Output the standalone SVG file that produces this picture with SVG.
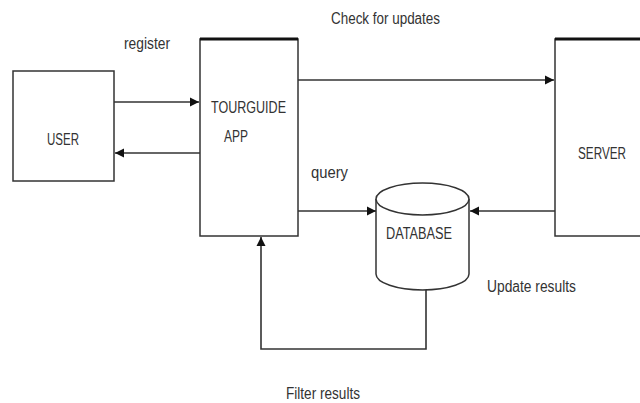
<svg xmlns="http://www.w3.org/2000/svg" width="640" height="403" viewBox="0 0 640 403">
<defs>
<style>
.box{fill:#fff;stroke:#333;stroke-width:1.5}
.top{stroke:#111;stroke-width:3}
.ln{fill:none;stroke:#333;stroke-width:1.6}
.t{font-family:"Liberation Sans",Arial,sans-serif;font-size:16px;fill:#333}
</style>
<marker id="ah" markerWidth="10" markerHeight="10" refX="9" refY="5" orient="auto" markerUnits="userSpaceOnUse">
<path d="M0,0.5 L9,5 L0,9.5 Z" fill="#111"/>
</marker>
</defs>
<rect width="640" height="403" fill="#fff"/>
<g id="user">
<rect class="box" x="13" y="71" width="101" height="110"/>
<text class="t" x="47" y="145" textLength="32" lengthAdjust="spacingAndGlyphs">USER</text>
</g>
<g id="tourguide">
<rect class="box" x="200" y="39" width="98" height="197"/>
<line class="top" x1="200" y1="39" x2="298" y2="39"/>
<text class="t" x="211" y="113" textLength="75" lengthAdjust="spacingAndGlyphs">TOURGUIDE</text>
<text class="t" x="224" y="142" textLength="24" lengthAdjust="spacingAndGlyphs">APP</text>
</g>
<g id="server">
<path class="box" d="M640,39 L555,39 L555,236 L640,236"/>
<line class="top" x1="555" y1="39" x2="640" y2="39"/>
<text class="t" x="578" y="159" textLength="48" lengthAdjust="spacingAndGlyphs">SERVER</text>
</g>
<g id="database">
<path class="box" d="M376,199 L376,274 A46.5,16 0 0 0 469,274 L469,199"/>
<ellipse class="box" cx="422.5" cy="199" rx="46.5" ry="16"/>
<text class="t" x="386" y="239" textLength="66" lengthAdjust="spacingAndGlyphs">DATABASE</text>
</g>
<g id="connectors">
<line class="ln" x1="114" y1="102" x2="199" y2="102" marker-end="url(#ah)"/>
<line class="ln" x1="200" y1="153" x2="115" y2="153" marker-end="url(#ah)"/>
<line class="ln" x1="298" y1="80" x2="554" y2="80" marker-end="url(#ah)"/>
<line class="ln" x1="298" y1="211" x2="376" y2="211" marker-end="url(#ah)"/>
<line class="ln" x1="555" y1="211" x2="470" y2="211" marker-end="url(#ah)"/>
<polyline class="ln" points="426,290 426,349 261,349 261,237" marker-end="url(#ah)"/>
</g>
<g id="labels">
<text class="t" x="124" y="49" textLength="46" lengthAdjust="spacingAndGlyphs">register</text>
<text class="t" x="331" y="24" textLength="109" lengthAdjust="spacingAndGlyphs">Check for updates</text>
<text class="t" x="311" y="178" textLength="37" lengthAdjust="spacingAndGlyphs">query</text>
<text class="t" x="487" y="292" textLength="89" lengthAdjust="spacingAndGlyphs">Update results</text>
<text class="t" x="286" y="399" textLength="74" lengthAdjust="spacingAndGlyphs">Filter results</text>
</g>
</svg>
